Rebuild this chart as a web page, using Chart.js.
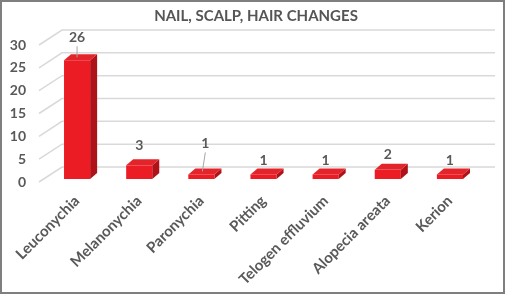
<!DOCTYPE html>
<html><head><meta charset="utf-8">
<script src="https://cdn.jsdelivr.net/npm/chart.js@4"></script>
<style>html,body{margin:0;padding:0;background:#fff;}#wrap{width:505px;height:294px;position:relative;}</style>
</head><body><div id="wrap"><canvas id="c" width="505" height="294"></canvas></div>
<script>
const chartTitle = 'NAIL, SCALP, HAIR CHANGES';
const categories = ['Leuconychia','Melanonychia','Paronychia','Pitting','Telogen effluvium','Alopecia areata','Kerion'];
const counts = [26, 3, 1, 1, 1, 2, 1];
const yTicks = [0, 5, 10, 15, 20, 25, 30];

const GREY = '#595959';
const FONT = 'Lato, "Open Sans", sans-serif';

const threeD = {
  id: 'threeD',
  beforeDatasetsDraw(chart, args, opts) {
    const ctx = chart.ctx, y = chart.scales.y, a = chart.chartArea;
    ctx.save();
    ctx.strokeStyle = '#d9d9d9';
    ctx.lineWidth = 1.5;
    yTicks.forEach(v => {
      const py = y.getPixelForValue(v);
      ctx.beginPath();
      ctx.moveTo(a.left - 7, py + 3);
      ctx.lineTo(a.left + 16, py - 12);
      ctx.lineTo(495, py - 12);
      ctx.stroke();
    });
    ctx.restore();
  },
  afterDatasetsDraw(chart, args, opts) {
    const ctx = chart.ctx;
    const meta = chart.getDatasetMeta(0);
    const dx = opts.dx, dy = opts.dy;
    ctx.save();
    meta.data.forEach((bar, i) => {
      const l = bar.x - bar.width / 2, r = bar.x + bar.width / 2, t = bar.y, b = bar.base;
      ctx.fillStyle = opts.side;
      ctx.beginPath();
      ctx.moveTo(r, t); ctx.lineTo(r + dx, t + dy); ctx.lineTo(r + dx, b + dy); ctx.lineTo(r, b); ctx.closePath(); ctx.fill();
      ctx.fillStyle = opts.top;
      ctx.beginPath();
      ctx.moveTo(l, t); ctx.lineTo(l + dx, t + dy); ctx.lineTo(r + dx, t + dy); ctx.lineTo(r, t); ctx.closePath(); ctx.fill();
      // value labels
      const lift = opts.lift[i] !== undefined ? opts.lift[i] : opts.defaultLift;
      const shift = opts.shift[i] || 0;
      const lx = bar.x + shift, ly = t - lift;
      ctx.fillStyle = GREY;
      ctx.font = 'bold 14px ' + FONT;
      ctx.textAlign = 'center';
      ctx.textBaseline = 'middle';
      ctx.fillText(String(counts[i]), lx, ly);
      if (opts.leaders.includes(i)) {
        ctx.strokeStyle = '#a6a6a6';
        ctx.lineWidth = 1;
        ctx.beginPath();
        ctx.moveTo(lx, ly + 9);
        ctx.lineTo(bar.x + (shift ? 1 : 0), t + dy + 3);
        ctx.stroke();
      }
    });
    ctx.restore();
  },
  afterDraw(chart) {
    const ctx = chart.ctx;
    ctx.save();
    ctx.strokeStyle = '#7f7f7f';
    ctx.lineWidth = 2;
    ctx.strokeRect(1, 1, 503, 292);
    ctx.restore();
  }
};

new Chart(document.getElementById('c'), {
  type: 'bar',
  data: {
    labels: categories,
    datasets: [{
      data: counts,
      backgroundColor: '#ec1c24',
      borderWidth: 0,
      categoryPercentage: 1,
      barPercentage: 0.42
    }]
  },
  options: {
    responsive: false,
    animation: false,
    devicePixelRatio: 1,
    layout: { padding: { left: 7, right: 0, top: 0, bottom: 0 } },
    plugins: {
      legend: { display: false },
      tooltip: { enabled: false },
      title: {
        display: true,
        text: chartTitle,
        color: '#555555',
        font: { family: FONT, size: 15, weight: 'bold', lineHeight: 1.2 },
        padding: { top: 7, bottom: 17 }
      },
      threeD: {
        dx: 7, dy: -6,
        side: '#b01219', top: '#e3242b',
        defaultLift: 14,
        lift: { 0: 23, 1: 20, 2: 31, 5: 15 },
        shift: { 2: 4 },
        leaders: [0, 2]
      }
    },
    scales: {
      x: {
        offset: true,
        grid: { display: false, drawTicks: false },
        border: { display: false },
        ticks: {
          autoSkip: false,
          maxRotation: 45, minRotation: 45,
          color: GREY,
          font: { family: FONT, size: 15, weight: 'bold' },
          padding: 13
        },
        afterFit(s) { s.height = 294 - 179; s.paddingLeft = 0; s.paddingRight = 0; }
      },
      y: {
        min: 0, max: 30,
        afterBuildTicks(s) { s.ticks = yTicks.map(v => ({ value: v })); },
        grid: { display: false, drawTicks: false },
        border: { display: false },
        ticks: {
          color: GREY,
          font: { family: FONT, size: 14, weight: 'bold' },
          padding: 20,
          labelOffset: 3
        },
        afterFit(s) { s.width = 39; }
      },
      yRight: {
        type: 'linear',
        position: 'right',
        display: true,
        grid: { display: false, drawTicks: false },
        border: { display: false },
        ticks: { display: false },
        afterFit(s) { s.width = 24; }
      }
    }
  },
  plugins: [threeD]
});
</script>
</body></html>
